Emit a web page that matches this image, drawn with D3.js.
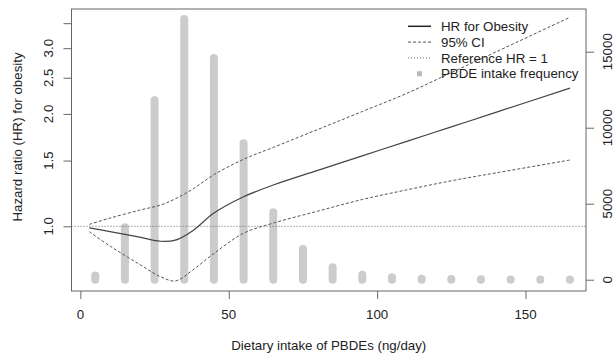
<!DOCTYPE html>
<html>
<head>
    <meta charset="UTF-8">
    <title>HR for obesity by PBDE intake</title>
    <script src="https://d3js.org/d3.v7.min.js"></script>
    <style>
        body { margin: 0; background: #fff; }
        text { font-family: "Liberation Sans", Arial, sans-serif; font-size: 13.3px; fill: #222; }
    </style>
</head>
<body>
    <div id="chart"></div>
    <script>
        // dose grid (ng/day) and estimated curves
        const doseX   = [3, 10, 20, 27, 32, 38, 45, 55, 65, 80, 95, 110, 125, 140, 165];
        const hrValue = [0.99, 0.968, 0.935, 0.912, 0.918, 0.975, 1.085, 1.20, 1.29, 1.412, 1.544, 1.689, 1.846, 2.02, 2.344];
        const ciUpper = [1.012, 1.052, 1.105, 1.14, 1.185, 1.26, 1.375, 1.512, 1.627, 1.817, 2.03, 2.27, 2.58, 2.93, 3.63];
        const ciLower = [0.967, 0.885, 0.79, 0.733, 0.714, 0.765, 0.846, 0.958, 1.02, 1.098, 1.18, 1.252, 1.324, 1.39, 1.505];

        // intake frequency histogram
        const barX    = [5, 15, 25, 35, 45, 55, 65, 75, 85, 95, 105, 115, 125, 135, 145, 155, 165];
        const barFreq = [270, 3450, 11800, 17150, 14590, 8970, 4430, 2020, 820, 330, 160, 60, 40, 30, 20, 15, 10];

        const xTicks = [0, 50, 100, 150];
        const hrTicks = [1, 1.5, 2, 2.5, 3, 3.5];
        const hrTickLabels = ["1.0", "1.5", "2.0", "2.5", "3.0", ""];
        const freqTicks = [0, 5000, 10000, 15000];
        const legendLabels = ["HR for Obesity", "95% CI", "Reference HR = 1", "PBDE intake frequency"];

        const width = 616;
        const height = 356;
        const plotLeft = 71.5, plotRight = 586, plotTop = 9, plotBottom = 291;

        const svg = d3.select('#chart')
            .append('svg')
            .attr('width', width)
            .attr('height', height);

        svg.append('rect').attr('width', width).attr('height', height).attr('fill', '#fff');

        const xScale = d3.scaleLinear().domain([-3, 170.4]).range([plotLeft, plotRight]);
        const yScale = d3.scaleLog().domain([0.671, 3.82]).range([plotBottom, plotTop]);
        const fScale = d3.scaleLinear().domain([-743, 17810]).range([plotBottom, plotTop]);

        // frequency bars (thick round-capped lines)
        svg.append('g').selectAll('line')
            .data(barX)
            .join('line')
            .attr('x1', d => xScale(d))
            .attr('x2', d => xScale(d))
            .attr('y1', fScale(0))
            .attr('y2', (d, i) => fScale(barFreq[i]))
            .attr('stroke', '#cccccc')
            .attr('stroke-width', 8)
            .attr('stroke-linecap', 'round');

        // reference line HR = 1
        svg.append('line')
            .attr('x1', plotLeft).attr('x2', plotRight)
            .attr('y1', yScale(1)).attr('y2', yScale(1))
            .attr('stroke', '#666')
            .attr('stroke-width', 1)
            .attr('stroke-dasharray', '1,2');

        const line = (vals) => d3.line()
            .x((d, i) => xScale(doseX[i]))
            .y((d, i) => yScale(vals[i]))
            .curve(d3.curveCatmullRom.alpha(0.5))(vals);

        svg.append('path')
            .attr('d', line(ciUpper))
            .attr('fill', 'none')
            .attr('stroke', '#555')
            .attr('stroke-width', 1)
            .attr('stroke-dasharray', '3,2');

        svg.append('path')
            .attr('d', line(ciLower))
            .attr('fill', 'none')
            .attr('stroke', '#555')
            .attr('stroke-width', 1)
            .attr('stroke-dasharray', '3,2');

        svg.append('path')
            .attr('d', line(hrValue))
            .attr('fill', 'none')
            .attr('stroke', '#444')
            .attr('stroke-width', 1.2);

        // box
        svg.append('rect')
            .attr('x', plotLeft).attr('y', plotTop)
            .attr('width', plotRight - plotLeft).attr('height', plotBottom - plotTop)
            .attr('fill', 'none')
            .attr('stroke', '#666');

        // axes
        const xAxis = svg.append('g')
            .attr('transform', `translate(0, ${plotBottom})`)
            .call(d3.axisBottom(xScale).tickValues(xTicks).tickSize(8).tickFormat(''));
        const yAxis = svg.append('g')
            .attr('transform', `translate(${plotLeft}, 0)`)
            .call(d3.axisLeft(yScale).tickValues(hrTicks).tickSize(8).tickFormat(''));
        const fAxis = svg.append('g')
            .attr('transform', `translate(${plotRight}, 0)`)
            .call(d3.axisRight(fScale).tickValues(freqTicks).tickSize(8).tickFormat(''));
        [xAxis, yAxis, fAxis].forEach(g => {
            g.select('.domain').remove();
            g.selectAll('line').attr('stroke', '#666');
        });

        svg.append('g').selectAll('text')
            .data(xTicks)
            .join('text')
            .attr('x', d => xScale(d))
            .attr('y', 319)
            .attr('text-anchor', 'middle')
            .text(d => d);

        svg.append('g').selectAll('text')
            .data(hrTicks)
            .join('text')
            .attr('transform', d => `translate(48.3, ${yScale(d)}) rotate(-90)`)
            .attr('dy', '0.35em')
            .attr('text-anchor', 'middle')
            .text((d, i) => hrTickLabels[i]);

        svg.append('g').selectAll('text')
            .data(freqTicks)
            .join('text')
            .attr('transform', d => `translate(607.5, ${fScale(d)}) rotate(-90)`)
            .attr('dy', '0.35em')
            .attr('text-anchor', 'middle')
            .text(d => d);

        // titles
        svg.append('text')
            .attr('x', (plotLeft + plotRight) / 2)
            .attr('y', 350)
            .attr('text-anchor', 'middle')
            .text('Dietary intake of PBDEs (ng/day)');

        svg.append('text')
            .attr('transform', 'translate(17.5, 137) rotate(-90)')
            .attr('dy', '0.35em')
            .attr('text-anchor', 'middle')
            .text('Hazard ratio (HR) for obesity');

        // legend
        const legend = svg.append('g');
        const rowY = i => 26.3 + i * 15.8;
        legend.append('line')
            .attr('x1', 408).attr('x2', 431).attr('y1', rowY(0)).attr('y2', rowY(0))
            .attr('stroke', '#222').attr('stroke-width', 1.5);
        legend.append('line')
            .attr('x1', 408).attr('x2', 431).attr('y1', rowY(1)).attr('y2', rowY(1))
            .attr('stroke', '#555').attr('stroke-dasharray', '3,2');
        legend.append('line')
            .attr('x1', 408).attr('x2', 431).attr('y1', rowY(2)).attr('y2', rowY(2))
            .attr('stroke', '#666').attr('stroke-dasharray', '1,2');
        legend.append('rect')
            .attr('x', 417).attr('y', rowY(3) - 2.5).attr('width', 5).attr('height', 5)
            .attr('fill', '#bbbbbb');
        legend.selectAll('text')
            .data(legendLabels)
            .join('text')
            .attr('x', 441)
            .attr('y', (d, i) => rowY(i))
            .attr('dy', '0.35em')
            .text(d => d);
    </script>
</body>
</html>
